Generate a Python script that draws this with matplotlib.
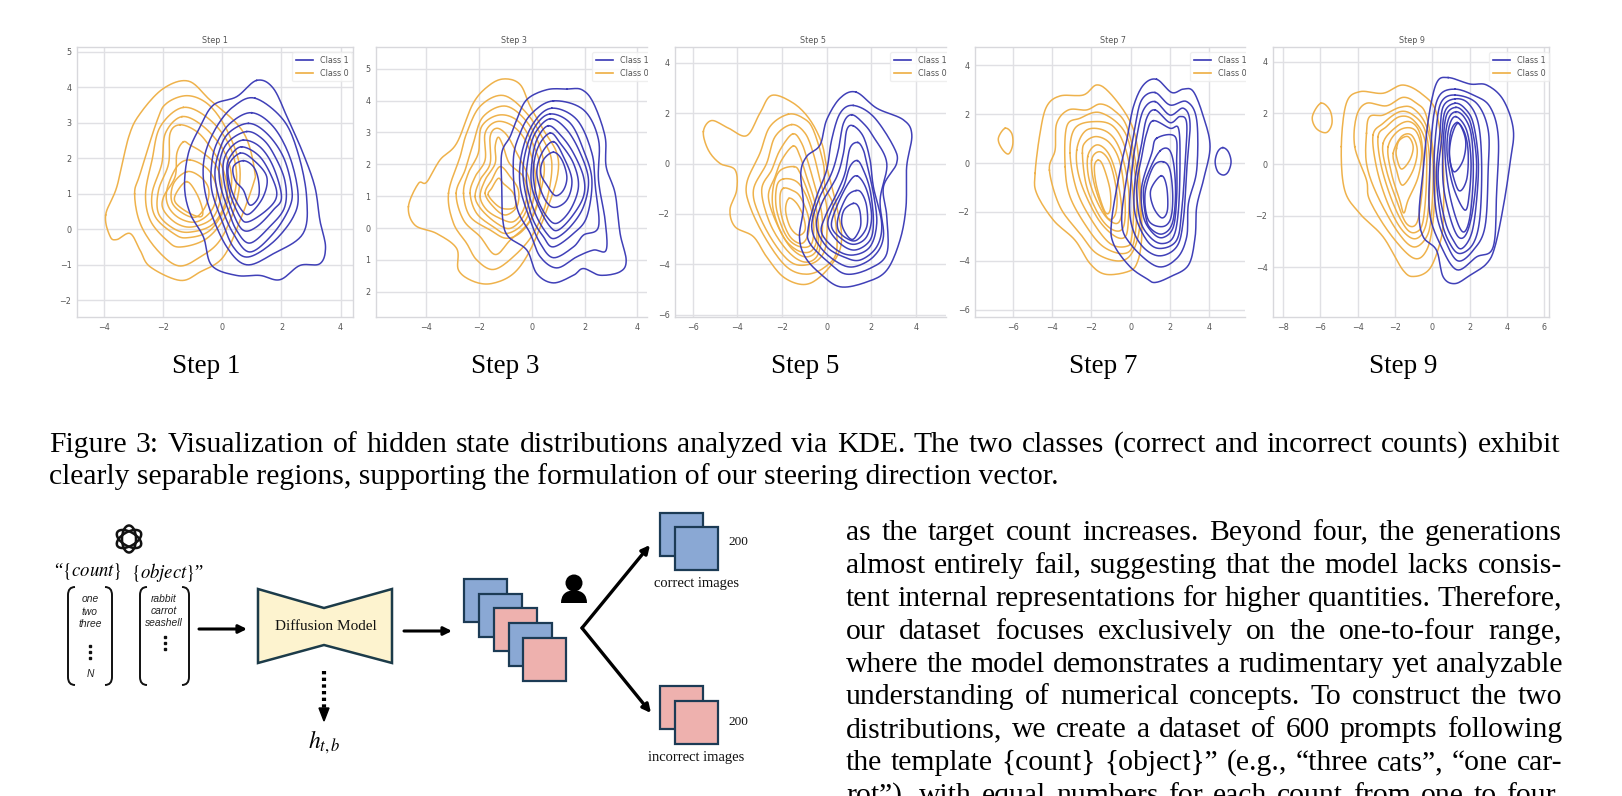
import numpy as np
import matplotlib
matplotlib.use("Agg")
import matplotlib.pyplot as plt
from matplotlib.lines import Line2D
from matplotlib.patches import Polygon, Rectangle, Circle, Ellipse, PathPatch
from matplotlib.path import Path
from matplotlib.transforms import Bbox

W, H = 1622, 796
BLUE = "#3636b4"
ORANGE = "#eeae42"
SERIF = "Liberation Serif"

step_titles = ["Step 1", "Step 3", "Step 5", "Step 7", "Step 9"]
class_names = ["Class 1", "Class 0"]

# kde contour outlines, outer to inner, (x, y)
step1_class0 = [
    [(-3.95,0.4),(-3.8,-0.2),(-3.57,-0.29),(-3.12,-0.12),(-2.78,-0.6),(-2.44,-1.06),(-1.43,-1.44),(-0.75,-1.2),(0.03,-0.78),(0.6,0.25),(1.05,1.28),(1.1,1.6),(0.88,2.42),(0.48,2.98),(-0.42,3.64),(-1.15,4.17),(-2,3.96),(-2.78,3.26),(-3.17,2.6),(-3.57,1.2)],
    [(-2.97,1.0),(-2.78,1.57),(-2.2,3.08),(-1.88,3.55),(-1.2,3.76),(-0.53,3.55),(0.03,2.98),(0.48,2.14),(0.6,1.48),(0.43,0.63),(-0.08,-0.31),(-0.75,-0.78),(-1.48,-1.03),(-2.2,-0.59),(-2.78,0.16)],
    [(-1.32,3.43),(-2.1,2.89),(-2.38,1.95),(-2.6,1.0),(-2.44,0.25),(-1.88,-0.31),(-1.43,-0.5),(-0.53,-0.26),(0.15,0.44),(0.48,1.38),(0.26,2.32),(-0.42,3.08)],
    [(-1.37,3.17),(-1.93,2.7),(-2.05,1.85),(-2.38,1.0),(-2.27,0.35),(-1.65,-0.12),(-1.2,-0.24),(-0.42,-0.03),(0.15,0.72),(0.31,1.48),(0.03,2.23),(-0.64,2.89)],
    [(-1.43,2.94),(-1.77,2.7),(-1.82,1.85),(-2.16,1.1),(-2.16,0.44),(-1.65,0.02),(-1.09,-0.08),(-0.3,0.16),(0.15,0.91),(0.03,1.67),(-0.42,2.32),(-0.87,2.75)],
    [(-1.32,2.46),(-1.54,2.14),(-1.6,1.48),(-1.99,0.91),(-1.99,0.54),(-1.54,0.16),(-0.98,0.07),(-0.3,0.35),(-0.02,1.1),(-0.19,1.76),(-0.64,2.14),(-1.09,2.37)],
    [(-1.09,1.95),(-1.54,1.76),(-1.88,1.1),(-1.82,0.63),(-1.43,0.3),(-0.87,0.21),(-0.36,0.54),(-0.19,1.1),(-0.47,1.67)],
    [(-1.2,1.62),(-1.65,1.29),(-1.71,0.77),(-1.32,0.44),(-0.87,0.35),(-0.53,0.72),(-0.47,1.15),(-0.75,1.48)],
    [(-1.2,1.34),(-1.54,1.05),(-1.6,0.77),(-1.2,0.49),(-0.75,0.35),(-0.67,0.54),(-0.87,1.0)],
]
step1_class1 = [
    [(1.16,4.19),(0.48,3.73),(-0.3,3.5),(-0.75,2.89),(-1.15,2.14),(-1.28,1.19),(-1.09,0.44),(-0.64,-0.22),(-0.36,-1.02),(0.48,-1.3),(1.27,-1.3),(1.95,-1.42),(2.62,-1.02),(3.3,-0.97),(3.49,-0.5),(3.3,0.25),(3.13,1.19),(2.73,2.14),(2.23,3.08),(1.72,3.97)],
    [(1.1,3.69),(0.37,3.45),(-0.19,2.89),(-0.58,2.14),(-0.64,1.38),(-0.42,0.54),(0.15,-0.5),(0.82,-1.0),(1.72,-0.69),(2.73,-0.12),(2.85,0.91),(2.56,2.14),(2.06,3.08)],
    [(0.99,3.28),(0.26,2.98),(-0.19,2.42),(-0.36,1.85),(-0.36,1.1),(-0.02,0.25),(0.37,-0.5),(0.88,-0.78),(1.72,-0.36),(2.4,0.35),(2.56,1.0),(2.28,2.04),(1.72,2.89)],
    [(0.88,2.98),(0.2,2.7),(-0.13,2.14),(-0.25,1.48),(-0.02,0.63),(0.37,-0.12),(0.93,-0.64),(1.72,-0.12),(2.28,0.63),(2.34,1.19),(2.06,2.04),(1.5,2.7)],
    [(0.82,2.75),(0.2,2.46),(-0.08,1.95),(-0.08,1.29),(0.2,0.54),(0.48,-0.03),(0.93,-0.39),(1.6,0.07),(2.11,0.63),(2.11,1.38),(1.72,2.14),(1.33,2.56)],
    [(0.71,2.51),(0.26,2.28),(0.03,1.85),(0.09,1.19),(0.37,0.44),(0.71,-0.03),(1.16,0.07),(1.72,0.54),(2.0,0.91),(1.72,1.76),(1.27,2.32)],
    [(0.65,2.32),(0.26,2.04),(0.15,1.67),(0.26,1.0),(0.6,0.35),(0.88,0.21),(1.5,0.54),(1.83,0.91),(1.72,1.38),(1.27,2.04)],
    [(0.6,2.14),(0.2,1.76),(0.31,1.1),(0.65,0.54),(0.93,0.44),(1.38,0.91),(1.5,1.48),(1.05,1.95)],
    [(0.71,1.93),(0.37,1.76),(0.43,1.38),(0.71,1.1),(0.93,0.68),(1.22,0.91),(1.22,1.38),(1.05,1.76)],
]
step3_class0 = [
    [(-4.68,0.67),(-4.43,0.09),(-3.61,-0.17),(-2.85,-0.64),(-2.78,-1.32),(-2.22,-1.67),(-1.52,-1.74),(-0.7,-1.43),(-0.06,-0.69),(0.57,0.57),(0.97,1.61),(0.95,2.35),(0.44,3.08),(-0.06,3.82),(-0.44,4.5),(-1.01,4.68),(-1.58,4.5),(-2.22,3.92),(-2.85,2.66),(-3.48,2.14),(-3.99,1.44),(-4.3,1.4)],
    [(-3.16,1.09),(-2.97,0.15),(-2.47,-0.48),(-2.09,-1.0),(-1.46,-1.3),(-0.7,-0.9),(0.06,-0.17),(0.57,0.88),(0.76,2.03),(0.44,2.77),(-0.19,3.6),(-1.08,4.16),(-1.96,3.82),(-2.47,2.98),(-2.72,2.24)],
    [(-2.87,1.09),(-2.59,0.25),(-1.96,-0.27),(-1.39,-0.83),(-0.82,-0.38),(-0.06,0.25),(0.38,1.3),(0.44,2.14),(-0.06,3.19),(-0.95,3.82),(-1.84,3.5),(-2.22,2.66),(-2.53,1.82)],
    [(-2.59,1.09),(-2.34,0.36),(-1.58,-0.06),(-0.95,-0.32),(-0.32,-0.06),(0.19,0.67),(0.32,1.61),(0.19,2.35),(-0.44,3.29),(-1.2,3.55),(-1.9,3.19),(-2.03,2.35),(-2.41,1.72)],
    [(-2.34,1.09),(-2.09,0.46),(-1.46,0.04),(-0.95,-0.17),(-0.32,0.15),(0.06,0.88),(0.13,1.72),(-0.19,2.66),(-0.7,3.19),(-1.33,3.34),(-1.77,2.98),(-1.77,2.14),(-2.15,1.61)],
    [(-2.15,0.99),(-1.9,0.57),(-1.33,0.15),(-0.82,-0.01),(-0.32,0.36),(-0.06,0.99),(-0.13,1.61),(-0.57,2.35),(-0.95,2.92),(-1.33,3.13),(-1.58,2.87),(-1.58,2.03),(-1.96,1.51)],
    [(-1.96,0.99),(-1.71,0.57),(-1.2,0.3),(-0.7,0.2),(-0.32,0.57),(-0.19,1.09),(-0.32,1.61),(-0.85,2.03),(-1.08,2.56),(-1.27,2.85),(-1.39,2.56),(-1.39,2.03),(-1.77,1.51)],
    [(-1.77,1.09),(-1.46,0.67),(-1.01,0.41),(-0.57,0.67),(-0.51,1.19),(-0.82,1.61),(-1.2,1.93),(-1.52,1.51)],
    [(-1.65,1.04),(-1.33,0.72),(-1.01,0.6),(-0.63,0.67),(-0.7,1.09),(-1.08,1.4),(-1.27,1.56),(-1.52,1.25)],
]
step3_class1 = [
    [(1.33,4.36),(0.57,4.34),(-0.19,4.03),(-0.57,3.4),(-0.82,2.87),(-1.14,2.35),(-1.14,1.3),(-1.1,0.25),(-0.89,-0.27),(-0.19,-0.69),(0.19,-1.43),(0.82,-1.72),(1.58,-1.48),(1.96,-1.27),(2.59,-1.48),(3.35,-1.37),(3.58,-1.01),(3.35,-0.17),(3.16,1.09),(2.82,1.93),(2.78,2.87),(2.34,3.92),(1.9,4.34)],
    [(0.82,3.99),(0,3.6),(-0.44,2.98),(-0.7,2.14),(-0.57,0.67),(-0.06,-0.17),(0.32,-0.9),(0.95,-1.25),(1.71,-0.9),(2.34,-0.69),(2.82,-0.69),(2.78,0.25),(2.53,1.51),(2.53,2.77),(1.96,3.71)],
    [(0.76,3.76),(0.06,3.29),(-0.38,2.35),(-0.44,1.3),(-0.06,0.25),(0.32,-0.48),(0.82,-0.93),(1.58,-0.59),(1.96,-0.22),(2.53,0.04),(2.41,1.3),(2.28,2.35),(1.71,3.4)],
    [(0.7,3.58),(0.13,3.19),(-0.25,2.35),(-0.32,1.51),(0.0,0.36),(0.44,-0.27),(0.82,-0.59),(1.58,-0.17),(2.09,0.36),(2.28,1.51),(1.96,2.45),(1.46,3.29)],
    [(0.7,3.43),(0.13,2.98),(-0.13,2.24),(-0.19,1.4),(0.13,0.46),(0.57,-0.17),(0.89,-0.32),(1.46,0.04),(1.96,0.67),(2.15,1.51),(1.84,2.35),(1.33,3.08)],
    [(0.63,3.21),(0.19,2.77),(0,2.03),(0,1.3),(0.32,0.57),(0.7,0.04),(1.01,-0.06),(1.52,0.36),(1.96,0.99),(1.96,1.61),(1.58,2.35),(1.14,2.87)],
    [(0.7,2.98),(0.25,2.56),(0.06,1.82),(0.19,0.99),(0.57,0.36),(0.95,0.15),(1.46,0.57),(1.77,1.3),(1.58,2.03),(1.08,2.66)],
    [(0.82,2.71),(0.38,2.35),(0.19,1.72),(0.44,0.99),(0.82,0.65),(1.33,0.88),(1.52,1.51),(1.2,2.24)],
    [(0.82,2.38),(0.44,2.14),(0.34,1.72),(0.57,1.35),(0.89,1.02),(1.2,1.19),(1.33,1.61),(1.14,2.14)],
]
step5_class0 = [
    [(-5.52,1.27),(-5.15,1.71),(-4.4,1.41),(-3.58,1.11),(-2.99,2.0),(-2.46,2.71),(-1.49,2.4),(-0.75,1.74),(-0.22,0.81),(0,-0.12),(0.45,-1.71),(0.67,-2.9),(0.45,-3.7),(-0.3,-4.5),(-1.04,-4.8),(-1.94,-4.5),(-2.69,-3.7),(-3.28,-2.9),(-4.1,-2.51),(-4.33,-1.84),(-4.03,-1.05),(-4.1,-0.25),(-4.78,0.01),(-5.3,0.54)],
    [(-1.72,1.96),(-2.54,1.47),(-2.99,0.41),(-3.58,-0.78),(-3.43,-1.71),(-2.69,-3.04),(-1.79,-4.1),(-0.9,-4.39),(-0.07,-4.1),(0.45,-3.43),(0.3,-1.71),(-0.07,-0.92),(-0.15,0.01),(-0.6,1.34),(-1.04,1.8)],
    [(-1.57,1.55),(-2.31,1.07),(-2.69,0.01),(-3.28,-1.05),(-2.99,-2.11),(-2.24,-3.3),(-1.49,-3.97),(-0.67,-3.97),(-0.15,-3.57),(0,-2.9),(0,-1.71),(-0.3,-0.65),(-0.6,0.41),(-0.97,1.21)],
    [(-1.52,1.18),(-2.09,0.54),(-2.46,-0.25),(-2.91,-1.05),(-2.54,-2.37),(-1.79,-3.43),(-1.04,-3.9),(-0.45,-3.7),(-0.22,-2.9),(-0.22,-1.98),(-0.52,-0.92),(-0.82,0.01),(-1.12,0.81)],
    [(-1.49,0.7),(-2.01,0.15),(-2.31,-0.52),(-2.61,-1.31),(-2.24,-2.37),(-1.64,-3.3),(-0.97,-3.7),(-0.45,-3.43),(-0.37,-2.51),(-0.52,-1.58),(-0.9,-0.52),(-1.19,0.28)],
    [(-1.46,-0.12),(-2.09,-0.28),(-2.39,-0.92),(-2.39,-1.84),(-1.94,-2.9),(-1.34,-3.43),(-0.75,-3.5),(-0.45,-3.04),(-0.52,-2.11),(-0.82,-1.18),(-1.19,-0.38)],
    [(-1.94,-0.61),(-2.24,-0.92),(-2.24,-1.84),(-1.79,-2.9),(-1.19,-3.3),(-0.67,-3.17),(-0.6,-2.24),(-0.9,-1.31),(-1.34,-0.72)],
    [(-1.94,-0.98),(-2.09,-1.31),(-2.01,-2.11),(-1.64,-2.9),(-1.12,-3.17),(-0.82,-2.77),(-0.82,-2.11),(-1.19,-1.31),(-1.57,-1.05)],
    [(-1.69,-1.38),(-1.84,-1.84),(-1.64,-2.51),(-1.27,-2.84),(-0.97,-2.64),(-1.04,-2.11),(-1.34,-1.58)],
]
step5_class1 = [
    [(1.31,2.84),(0.6,2.6),(0,1.74),(-0.3,0.74),(-0.9,0.28),(-1.16,-0.38),(-1.04,-1.71),(-1.22,-2.9),(-0.97,-3.7),(-0.3,-4.36),(0.6,-4.89),(1.79,-4.7),(2.69,-4.23),(3.28,-3.04),(3.55,-1.71),(3.58,-0.12),(3.81,1.14),(3.43,1.74),(2.24,2.2)],
    [(1.19,2.31),(0.6,2.0),(0.22,0.94),(0,-0.25),(-0.45,-1.31),(-0.82,-2.51),(-0.75,-3.17),(0.15,-3.97),(0.9,-4.39),(1.94,-4.16),(2.69,-3.57),(2.69,-2.11),(2.54,-0.92),(3.13,0.01),(2.99,0.68),(2.09,1.87)],
    [(1.12,1.94),(0.75,1.6),(0.52,0.54),(0.22,-0.38),(-0.37,-1.45),(-0.67,-2.51),(-0.3,-3.3),(0.45,-3.9),(1.19,-4.1),(2.09,-3.7),(2.54,-2.9),(2.39,-1.45),(2.69,0.01),(2.09,1.07),(1.64,1.6)],
    [(1.19,1.5),(0.9,1.34),(0.75,0.41),(0.45,-0.52),(-0.22,-1.58),(-0.45,-2.51),(0,-3.3),(0.75,-3.7),(1.49,-3.83),(2.24,-3.3),(2.46,-2.37),(2.09,-0.92),(1.94,0.15),(1.64,1.07)],
    [(1.39,0.84),(1.04,0.61),(0.82,-0.38),(0.45,-1.18),(-0.07,-2.11),(-0.22,-2.77),(0.45,-3.43),(1.19,-3.63),(1.94,-3.3),(2.24,-2.37),(2.09,-1.18),(1.79,0.01),(1.64,0.54)],
    [(1.37,0.12),(1.04,-0.12),(0.75,-0.92),(0.22,-1.84),(0.07,-2.51),(0.6,-3.17),(1.27,-3.43),(1.94,-3.04),(2.09,-2.24),(1.94,-1.05),(1.64,-0.25)],
    [(1.37,-0.49),(0.97,-0.78),(0.45,-1.71),(0.22,-2.51),(0.75,-3.04),(1.27,-3.2),(1.79,-2.9),(2.01,-2.11),(1.79,-1.05)],
    [(1.31,-1.07),(0.9,-1.31),(0.52,-2.11),(0.52,-2.64),(0.9,-2.97),(1.34,-3.04),(1.79,-2.51),(1.79,-1.71),(1.57,-1.18)],
    [(1.19,-1.58),(0.78,-1.84),(0.67,-2.37),(0.9,-2.84),(1.19,-3.0),(1.49,-2.57),(1.52,-2.11),(1.42,-1.71)],
]
step7_class0 = [
    [(-6.4,1.42),(-6.74,1.01),(-6.57,0.6),(-6.23,0.37),(-6.01,0.74),(-6.06,1.21)],
    [(-4.87,-0.42),(-4.79,-1.24),(-3.94,-2.33),(-2.84,-3.15),(-2.07,-4.11),(-1.31,-4.54),(-0.2,-4.45),(0.31,-4.11),(0.56,-3.02),(0.48,-0.97),(0.31,0.8),(-0.12,1.83),(-1.05,2.85),(-1.73,3.19),(-2.41,2.78),(-3.6,2.74),(-4.28,2.31),(-4.62,1.21)],
    [(-4.14,-0.29),(-3.6,-1.79),(-2.58,-2.88),(-1.73,-3.7),(-0.54,-4.0),(0.14,-3.56),(0.48,-2.33),(0.31,-0.29),(-0.2,1.49),(-0.88,2.17),(-1.56,2.41),(-2.24,2.17),(-3.17,2.17),(-3.77,1.62),(-3.85,0.53)],
    [(-3.34,-0.15),(-3.09,-1.38),(-2.24,-2.61),(-1.39,-3.42),(-0.37,-3.7),(0.14,-3.29),(0.31,-1.79),(0.14,-0.01),(-0.37,1.35),(-1.56,2.06),(-2.58,1.83),(-3.26,1.49)],
    [(-3.09,0.4),(-2.75,-1.11),(-1.99,-2.33),(-1.05,-3.29),(-0.2,-3.4),(0.05,-3.02),(0.14,-1.51),(-0.2,0.4),(-0.88,1.49),(-1.9,1.69),(-2.84,1.42)],
    [(-2.75,0.53),(-2.58,-0.7),(-1.73,-2.2),(-0.88,-2.95),(-0.29,-3.02),(-0.12,-2.33),(-0.12,-0.97),(-0.54,0.53),(-1.22,1.28),(-2.24,1.35)],
    [(-2.46,0.4),(-2.24,-0.97),(-1.56,-2.2),(-0.88,-2.74),(-0.37,-2.61),(-0.29,-1.51),(-0.54,-0.01),(-1.05,0.8),(-1.73,1.08),(-2.29,0.87)],
    [(-2.19,0.26),(-2.07,-0.83),(-1.39,-2.06),(-0.71,-2.47),(-0.46,-1.92),(-0.71,-0.56),(-1.14,0.4),(-1.73,0.74)],
    [(-1.99,0.12),(-1.82,-0.97),(-1.22,-2.2),(-0.8,-2.13),(-0.71,-1.24),(-1.05,-0.01),(-1.56,0.46)],
    [(-1.65,0.12),(-1.85,-0.15),(-1.73,-0.97),(-1.31,-1.99),(-1.05,-1.92),(-1.05,-1.11),(-1.39,-0.15)],
]
step7_class1 = [
    [(4.69,0.63),(4.43,0.46),(4.3,0.05),(4.43,-0.35),(4.72,-0.49),(4.97,-0.35),(5.11,0.05),(4.97,0.46)],
    [(1.32,3.42),(0.65,3.19),(0.14,2.31),(-0.2,0.94),(-0.54,-0.29),(-0.97,-2.33),(-0.88,-3.29),(-0.03,-4.24),(0.81,-4.72),(1.24,-4.88),(2.0,-4.65),(2.94,-4.17),(3.28,-3.02),(3.36,-1.79),(3.7,-0.7),(4.04,0.67),(3.7,1.9),(3.19,2.92),(2.68,3.02),(2.09,2.88)],
    [(1.24,2.88),(0.56,2.58),(0.22,1.49),(-0.12,-0.15),(-0.46,-2.33),(-0.03,-3.29),(1.32,-4.22),(2.34,-3.9),(2.85,-3.02),(2.94,-1.65),(3.36,-0.29),(3.36,1.76),(2.85,2.51),(2.0,2.37)],
    [(1.24,2.51),(0.65,2.17),(0.31,1.08),(0.05,-0.42),(-0.03,-2.2),(0.48,-3.29),(1.41,-3.79),(2.34,-3.42),(2.68,-2.33),(2.85,-0.29),(3.02,1.62),(2.68,2.24),(2.0,1.96)],
    [(1.24,2.17),(0.81,1.83),(0.56,0.8),(0.22,-0.7),(0.22,-2.06),(0.81,-3.15),(1.49,-3.49),(2.34,-3.15),(2.6,-1.92),(2.77,-0.01),(2.85,1.62),(2.51,1.9),(2.0,1.65)],
    [(1.15,1.73),(0.81,1.21),(0.56,0.26),(0.31,-0.97),(0.48,-2.33),(0.98,-3.02),(1.58,-3.29),(2.17,-3.02),(2.43,-1.92),(2.51,0.12),(2.43,1.42),(2.0,1.42)],
    [(1.32,1.01),(1.07,0.4),(0.56,-0.97),(0.65,-2.2),(1.15,-2.88),(1.66,-3.04),(2.17,-2.61),(2.34,-1.38),(2.34,-0.01),(2.26,1.08)],
    [(1.5,0.5),(1.0,-0.2),(0.65,-1.1),(0.78,-2.25),(1.05,-2.7),(1.6,-2.9),(2.1,-2.5),(2.28,-1.38),(2.2,-0.1),(1.95,0.55)],
    [(1.66,0.05),(1.15,-0.15),(0.73,-1.24),(0.9,-2.33),(1.58,-2.6),(2.02,-2.3),(2.14,-1.38),(2.0,-0.29)],
    [(1.55,-0.52),(1.02,-1.1),(1.15,-1.79),(1.58,-2.24),(1.87,-1.92),(1.83,-0.97)],
]
step9_class0 = [
    [(-5.97,2.38),(-6.42,1.86),(-6.21,1.4),(-5.67,1.24),(-5.37,1.6),(-5.49,2.12)],
    [(-4.87,0.69),(-4.69,-1.0),(-3.88,-1.91),(-2.63,-2.82),(-1.56,-4.12),(-0.93,-4.36),(-0.13,-4.06),(0.41,-3.08),(0.59,-2.17),(0.59,0.04),(0.23,1.99),(-0.48,2.7),(-1.56,3.09),(-2.63,2.77),(-3.88,2.83),(-4.6,2.38)],
    [(-4.15,0.69),(-3.52,-0.61),(-3.35,-1.39),(-2.27,-2.69),(-1.02,-3.64),(-0.3,-3.34),(0.05,-2.17),(0.14,-0.09),(-0.3,1.86),(-0.84,2.38),(-1.56,2.61),(-2.45,2.28),(-3.52,2.38),(-4.06,1.86)],
    [(-3.52,1.21),(-3.52,0.04),(-2.99,-1.13),(-1.91,-2.56),(-1.02,-3.21),(-0.3,-2.82),(-0.04,-1.91),(0.05,0.04),(-0.3,1.47),(-1.02,2.18),(-1.74,2.22),(-2.63,1.92),(-3.35,1.86)],
    [(-3.17,1.14),(-2.99,-0.09),(-2.45,-1.39),(-1.74,-2.43),(-1.02,-2.89),(-0.48,-2.63),(-0.21,-1.78),(-0.13,0.04),(-0.39,1.34),(-1.02,1.92),(-1.74,2.05),(-2.63,1.6)],
    [(-2.9,1.08),(-2.72,-0.09),(-2.09,-1.52),(-1.38,-2.5),(-0.84,-2.63),(-0.48,-2.17),(-0.3,-0.48),(-0.39,0.95),(-1.02,1.73),(-1.74,1.86),(-2.45,1.47)],
    [(-2.63,0.82),(-2.45,-0.22),(-1.91,-1.39),(-1.38,-2.3),(-0.84,-2.3),(-0.57,-1.26),(-0.48,0.04),(-0.66,1.21),(-1.2,1.66),(-1.91,1.47)],
    [(-2.36,0.69),(-2.18,-0.35),(-1.74,-1.39),(-1.52,-1.89),(-1.29,-1.39),(-0.75,-0.48),(-0.57,0.56),(-0.93,1.34),(-1.74,1.34)],
    [(-2.09,0.43),(-1.91,-0.22),(-1.59,-0.81),(-1.02,-0.22),(-0.8,0.56),(-1.11,1.14),(-1.65,1.08)],
    [(-1.91,0.62),(-1.91,0.3),(-1.65,-0.18),(-1.2,0.17),(-1.02,0.69),(-1.29,1.08),(-1.74,0.95)],
]
step9_class1 = [
    [(0.86,3.38),(0.23,3.16),(-0.21,1.73),(-0.48,-0.22),(-0.7,-1.91),(-0.48,-2.82),(0.23,-3.34),(0.59,-4.38),(1.22,-4.64),(2.02,-4.32),(2.92,-3.86),(3.36,-3.21),(3.81,-1.65),(4.17,0.04),(4.35,1.34),(3.81,2.51),(2.92,3.09),(2.02,3.13)],
    [(1.22,2.93),(0.41,2.7),(0.05,1.73),(-0.13,-0.22),(-0.13,-1.91),(0.41,-3.08),(1.31,-4.1),(2.38,-3.6),(3.27,-3.21),(3.45,-1.13),(3.54,1.08),(3.09,2.25),(2.2,2.7)],
    [(1.22,2.7),(0.5,2.44),(0.23,1.47),(0.09,-0.22),(0.23,-1.91),(0.77,-3.08),(1.4,-3.76),(2.2,-3.34),(2.83,-2.43),(3.0,-0.22),(3.0,1.34),(2.38,2.38)],
    [(1.22,2.55),(0.59,2.25),(0.41,1.21),(0.23,-0.48),(0.5,-2.17),(0.95,-3.08),(1.48,-3.47),(2.2,-3.08),(2.56,-2.04),(2.65,0.04),(2.47,1.6),(1.93,2.38)],
    [(1.22,2.38),(0.68,2.05),(0.5,0.95),(0.32,-0.61),(0.68,-2.17),(1.13,-2.95),(1.57,-3.28),(2.11,-2.69),(2.38,-1.39),(2.47,0.17),(2.2,1.6),(1.75,2.18)],
    [(1.27,2.22),(0.77,1.92),(0.59,0.82),(0.59,-0.74),(0.95,-2.04),(1.4,-2.82),(1.84,-2.69),(2.2,-1.65),(2.38,0.04),(2.11,1.47),(1.75,1.99)],
    [(1.27,2.05),(0.86,1.73),(0.68,0.69),(0.86,-0.87),(1.31,-2.17),(1.7,-2.63),(2.02,-2.04),(2.2,-0.48),(2.11,1.08),(1.75,1.8)],
    [(1.27,1.86),(0.91,1.47),(0.8,0.43),(1.13,-0.87),(1.75,-1.78),(1.99,-1.13),(2.08,0.17),(1.84,1.34)],
    [(1.34,1.63),(0.98,1.21),(0.95,0.17),(1.4,-1.0),(1.84,-0.61),(1.93,0.43),(1.75,1.21)],
    [(1.4,1.6),(1.04,1.08),(0.93,0.3),(1.18,-0.29),(1.66,0.17),(1.79,0.95)],
]

class0_contours = [step1_class0, step3_class0, step5_class0, step7_class0, step9_class0]
class1_contours = [step1_class1, step3_class1, step5_class1, step7_class1, step9_class1]

x_limits = [(-4.92, 4.42), (-5.91, 4.37), (-6.79, 5.34), (-7.93, 5.82), (-8.53, 6.26)]
y_limits = [(-2.47, 5.13), (-2.79, 5.68), (-6.09, 4.63), (-6.29, 4.74), (-5.94, 4.57)]
x_ticks = [[-4,-2,0,2,4], [-4,-2,0,2,4], [-6,-4,-2,0,2,4], [-6,-4,-2,0,2,4], [-8,-6,-4,-2,0,2,4,6]]
y_ticks = [[-2,-1,0,1,2,3,4,5], [-2,-1,0,1,2,3,4,5], [-6,-4,-2,0,2,4], [-6,-4,-2,0,2,4], [-4,-2,0,2,4]]
y_ticklabels_step3 = ["2", "1", "0", "1", "2", "3", "4", "5"]  # minus signs got cropped off in the source

# panel boxes in pixels: left, right, top, bottom, title centre, legend left
panel_left = [77, 376, 675, 975, 1273]
panel_right = [353, 647, 946, 1245, 1549]
panel_top = 47
panel_bottom = 317
title_center = [215, 514, 813, 1113, 1412]
legend_left = [292, 592, 890, 1190, 1489]

step_label_x = [206, 505, 805, 1103, 1403]
step_label_y = 373

caption = [
    "Figure 3: Visualization of hidden state distributions analyzed via KDE. The two classes (correct and incorrect counts) exhibit",
    "clearly separable regions, supporting the formulation of our steering direction vector.",
]
body_lines = [
    "as the target count increases. Beyond four, the generations",
    "almost entirely fail, suggesting that the model lacks consis-",
    "tent internal representations for higher quantities. Therefore,",
    "our dataset focuses exclusively on the one-to-four range,",
    "where the model demonstrates a rudimentary yet analyzable",
    "understanding of numerical concepts. To construct the two",
    "distributions, we create a dataset of 600 prompts following",
    "the template {count} {object}\u201d (e.g., \u201cthree cats\u201d, \u201cone car-",
    "rot\u201d), with equal numbers for each count from one to four.",
]
body_y = [540, 573, 606, 639, 672, 704, 737, 770, 803]

count_words = ["one", "two", "three"]
object_words = ["rabbit", "carrot", "seashell"]
stack_colors = ["blue", "blue", "pink", "blue", "pink"]
images_per_class = 200


def smooth(points):
    # closed catmull-rom through the read points
    p = np.array(points, dtype=float)
    n = len(p)
    out = []
    for i in range(n):
        p0, p1, p2, p3 = p[(i-1) % n], p[i], p[(i+1) % n], p[(i+2) % n]
        for t in np.linspace(0, 1, 10, endpoint=False):
            out.append(0.5*((2*p1) + (p2-p0)*t + (2*p0-5*p1+4*p2-p3)*t**2 + (3*p1-p0-3*p2+p3)*t**3))
    out.append(out[0])
    return np.array(out)


fig = plt.figure(figsize=(W/100, H/100), dpi=100, facecolor="white")

# overlay in pixel coordinates for the diagram and the page text
page = fig.add_axes([0, 0, 1, 1], zorder=0)
page.set_xlim(0, W)
page.set_ylim(H, 0)
page.axis("off")

for i in range(5):
    l, r = panel_left[i], panel_right[i]
    ax = fig.add_axes([l/W, 1-panel_bottom/H, (r-l)/W, (panel_bottom-panel_top)/H], zorder=2)
    ax.set_facecolor("white")
    for c in class0_contours[i]:
        xy = smooth(c)
        ax.plot(xy[:, 0], xy[:, 1], color=ORANGE, lw=1.1, alpha=0.95)
    for c in class1_contours[i]:
        xy = smooth(c)
        ax.plot(xy[:, 0], xy[:, 1], color=BLUE, lw=1.1, alpha=0.95)
    ax.set_xlim(*x_limits[i])
    ax.set_ylim(*y_limits[i])
    ax.set_xticks(x_ticks[i])
    ax.set_yticks(y_ticks[i])
    if i == 1:
        ax.set_yticklabels(y_ticklabels_step3)
    ax.grid(True, color="#e0e0e4", lw=1.0)
    ax.set_axisbelow(True)
    ax.tick_params(length=0, labelsize=5.8, labelcolor="#555555", pad=4)
    for name, sp in ax.spines.items():
        sp.set_color("#d8d8dc")
        sp.set_linewidth(1.0)
    if i in (1, 2, 3):
        ax.spines["right"].set_visible(False)
    ax.set_title(step_titles[i], fontsize=5.8, color="#555555", pad=3,
                 x=(title_center[i]-l)/(r-l))

    handles = [Line2D([], [], color=BLUE, lw=1.2, label=class_names[0]),
               Line2D([], [], color=ORANGE, lw=1.2, label=class_names[1])]
    leg = ax.legend(handles=handles, loc="upper left", fontsize=5.8, frameon=True,
                    bbox_to_anchor=(legend_left[i]/W, 1-52/H), bbox_transform=fig.transFigure,
                    borderaxespad=0, borderpad=0.45, handlelength=2.2, handletextpad=0.8,
                    labelspacing=0.5, framealpha=0.8, edgecolor="#ececec", fancybox=True)
    for t in leg.get_texts():
        t.set_color("#555555")
    # source panels are cropped on the right, legend goes with them
    crop = Bbox([[0, 0], [r + (1 if i < 4 else 3), H]])
    for a in leg.findobj():
        a.set_clip_on(True)
        a.set_clip_box(crop)

for x, name in zip(step_label_x, step_titles):
    page.text(x, step_label_y, name, family=SERIF, fontsize=19.5, ha="center", va="baseline", color="black")


def put_line(text, x0, x1, y, size=21.3, justify=True):
    if not justify:
        page.text(x0, y, text, family=SERIF, fontsize=size, va="baseline", color="black")
        return
    words = text.split(" ")
    rend = fig.canvas.get_renderer()
    arts = [page.text(x0, y, w, family=SERIF, fontsize=size, va="baseline", color="black") for w in words]
    widths = [a.get_window_extent(rend).width for a in arts]
    gap = (x1 - x0 - sum(widths)) / (len(words) - 1)
    x = x0
    for a, w in zip(arts, widths):
        a.set_x(x)
        x += w + gap


put_line(caption[0], 49, 1560, 452)
put_line(caption[1], 49, 1560, 484, justify=False)
for line, y in zip(body_lines, body_y):
    put_line(line, 846, 1562, y)

# prompt side of the diagram
for ang in range(0, 180, 60):
    page.add_patch(Ellipse((129, 539), 14, 27, angle=ang, fill=False, ec="#111111", lw=1.8))
page.text(88, 572, r"“$\{count\}$", fontsize=13.5, ha="center", va="center", family=SERIF, math_fontfamily="stix")
page.text(168, 572, r"$\{object\}$”", fontsize=13.5, ha="center", va="center", family=SERIF, math_fontfamily="stix")


def bracket(x_edge, x_end, top, bottom):
    codes = [Path.MOVETO, Path.CURVE3, Path.CURVE3, Path.LINETO, Path.CURVE3, Path.CURVE3]
    verts = [(x_end, top), (x_edge, top), (x_edge, top+8), (x_edge, bottom-8), (x_edge, bottom), (x_end, bottom)]
    page.add_patch(PathPatch(Path(verts, codes), fill=False, ec="#111111", lw=1.4))


bracket(68, 75, 587, 685)
bracket(112, 105, 587, 685)
bracket(140, 147, 587, 685)
bracket(189, 182, 587, 685)
for w, y in zip(count_words, [599, 612, 624]):
    page.text(90, y, w, family="Liberation Sans", style="italic", fontsize=7.4, ha="center", va="center", color="#222222")
page.text(90, 674, "N", family="Liberation Sans", style="italic", fontsize=7.4, ha="center", va="center", color="#222222")
for w, y in zip(object_words, [599, 611, 623]):
    page.text(164, y, w, family="Liberation Sans", style="italic", fontsize=7.4, ha="center", va="center", color="#222222")
page.plot([90, 90, 90], [646, 652, 658], ls="none", marker="s", ms=1.8, color="#111111")
page.plot([165, 165, 165], [637, 643, 649], ls="none", marker="s", ms=1.8, color="#111111")


def arrow(x0, y0, x1, y1, lw=2.2, ls="-", scale=12):
    page.annotate("", xy=(x1, y1), xytext=(x0, y0),
                  arrowprops=dict(arrowstyle="-|>", lw=lw, color="black", ls=ls,
                                  mutation_scale=scale, shrinkA=0, shrinkB=0))


arrow(199, 629, 247, 629)
page.add_patch(Polygon([(258, 589), (324, 608), (392, 589), (392, 663), (324, 645), (258, 663)],
                       closed=True, fc="#fdf3cf", ec="#1c3b49", lw=1.8))
page.text(326, 626, "Diffusion Model", family=SERIF, fontsize=11, ha="center", va="center", color="#111111")
page.plot([324, 324], [671, 708], color="black", lw=3, ls=(0, (0.8, 0.8)))
page.fill([319, 329, 324], [708, 708, 721], color="black")
page.text(324, 742, r"$h_{t,b}$", fontsize=17, ha="center", va="center", math_fontfamily="stix")

arrow(404, 631, 452, 631)

# image stacks
COLORS = {"blue": "#8aa8d4", "pink": "#eeb1ae"}
SIDE = 42.5


def square(x, y, color):
    page.add_patch(Rectangle((x, y), SIDE, SIDE, fc=COLORS[color], ec="#1c3b55", lw=1.6))


for (x, y), c in zip([(464, 579), (479, 594), (494, 608), (509, 623), (523, 638)], stack_colors):
    square(x, y, c)
square(660, 513, "blue")
square(675, 527, "blue")
square(660, 686, "pink")
square(675, 701, "pink")

page.text(738, 542, str(images_per_class), family=SERIF, fontsize=9.5, ha="center", va="center", color="#111111")
page.text(738, 722, str(images_per_class), family=SERIF, fontsize=9.5, ha="center", va="center", color="#111111")
page.text(697, 584, "correct images", family=SERIF, fontsize=10.5, ha="center", va="center", color="#111111")
page.text(696, 757, "incorrect images", family=SERIF, fontsize=10.5, ha="center", va="center", color="#111111")

# person icon
page.add_patch(Circle((574, 583), 8.5, fc="black", ec="none"))
body = Path([(561, 603), (561, 591), (574, 590), (587, 591), (587, 603), (561, 603)],
            [Path.MOVETO, Path.CURVE3, Path.CURVE3, Path.CURVE3, Path.CURVE3, Path.CLOSEPOLY])
page.add_patch(PathPatch(body, fc="black", ec="none"))

arrow(582, 628, 650, 545, lw=2.4)
arrow(582, 628, 651, 713, lw=2.4)

fig.savefig("out.png", dpi=100)
